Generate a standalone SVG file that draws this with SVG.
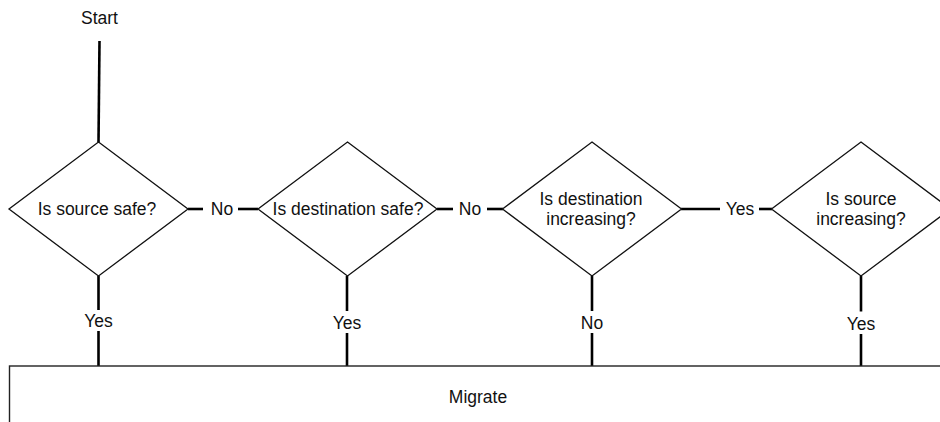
<svg xmlns="http://www.w3.org/2000/svg" width="940" height="422" viewBox="0 0 940 422">
  <style>
    text { font-family: "Liberation Sans", Arial, sans-serif; font-size: 17.5px; fill: #111; text-anchor: middle; }
    .decision { fill: #fff; stroke: #111; stroke-width: 1.3; }
    .process { fill: #fff; stroke: #222; stroke-width: 1.4; }
    .wire { stroke: #000; stroke-width: 2.6; fill: none; }
  </style>
  <rect width="940" height="422" fill="#fff"/>

  <!-- connectors -->
  <g id="connectors">
    <line class="wire" x1="99.5" y1="41" x2="98.5" y2="142"/>
    <text x="99.5" y="24">Start</text>

    <!-- horizontal flow between decisions -->
    <line class="wire" x1="188" y1="209" x2="203" y2="209"/>
    <line class="wire" x1="238" y1="209" x2="258" y2="209"/>
    <text x="222" y="215">No</text>

    <line class="wire" x1="437" y1="209" x2="453" y2="209"/>
    <line class="wire" x1="487" y1="209" x2="503" y2="209"/>
    <text x="470" y="215">No</text>

    <line class="wire" x1="681" y1="209" x2="720" y2="209"/>
    <line class="wire" x1="759" y1="209" x2="772" y2="209"/>
    <text x="740" y="215">Yes</text>

    <!-- exits down to Migrate -->
    <line class="wire" x1="98.5" y1="276" x2="98.5" y2="310"/>
    <line class="wire" x1="98.5" y1="331" x2="98.5" y2="366"/>
    <text x="98.5" y="327">Yes</text>

    <line class="wire" x1="347" y1="276" x2="347" y2="311"/>
    <line class="wire" x1="347" y1="333" x2="347" y2="366"/>
    <text x="347" y="329">Yes</text>

    <line class="wire" x1="592" y1="276" x2="592" y2="311"/>
    <line class="wire" x1="592" y1="333" x2="592" y2="366"/>
    <text x="592" y="329">No</text>

    <line class="wire" x1="861" y1="276" x2="861" y2="311.5"/>
    <line class="wire" x1="861" y1="334" x2="861" y2="366"/>
    <text x="861" y="330">Yes</text>
  </g>

  <g id="source-safe">
    <polygon class="decision" points="98.5,142 188,209 98.5,276 9,209"/>
    <text x="97" y="215">Is source safe?</text>
  </g>

  <g id="destination-safe">
    <polygon class="decision" points="347.5,142 437,209 347.5,276 258,209"/>
    <text x="348" y="215">Is destination safe?</text>
  </g>

  <g id="destination-increasing">
    <polygon class="decision" points="592,142 681.5,209 592,276 502.5,209"/>
    <text x="591" y="205">Is destination</text>
    <text x="591" y="225">increasing?</text>
  </g>

  <g id="source-increasing">
    <polygon class="decision" points="861,142 950.5,209 861,276 771.5,209"/>
    <text x="861" y="205">Is source</text>
    <text x="861" y="225">increasing?</text>
  </g>

  <g id="migrate">
    <rect class="process" x="9.5" y="366" width="938" height="80"/>
    <text x="478" y="403">Migrate</text>
  </g>
</svg>
